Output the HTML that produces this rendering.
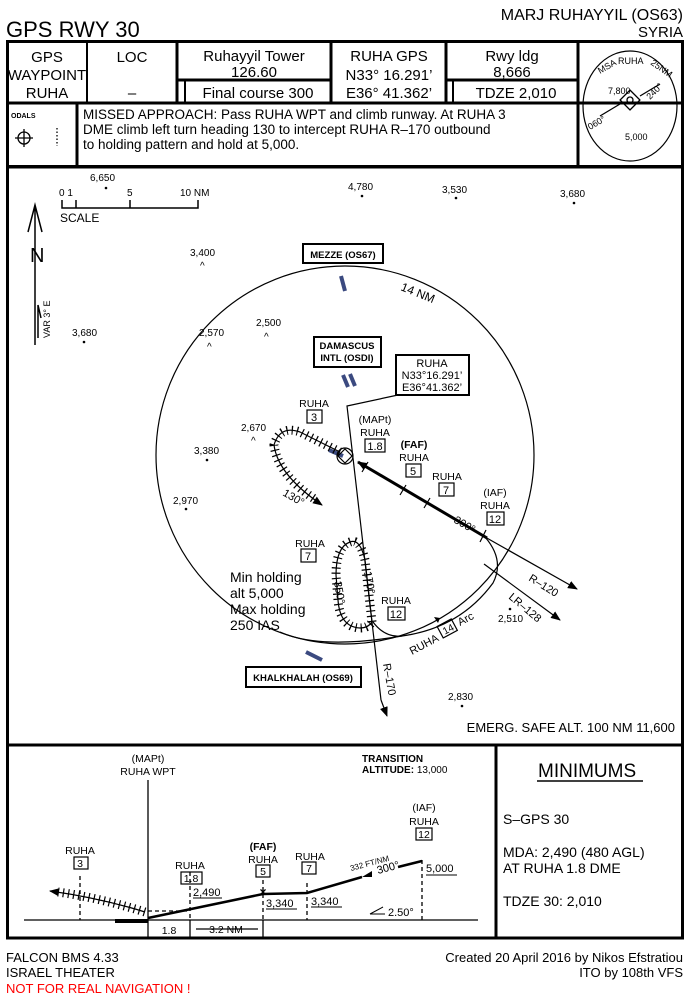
<!DOCTYPE html>
<html><head><meta charset="utf-8"><style>
html,body{margin:0;padding:0;background:#fff}
svg{display:block}
text{font-family:"Liberation Sans",sans-serif;fill:#000}
</style></head><body>
<svg width="690" height="998" viewBox="0 0 690 998" xmlns="http://www.w3.org/2000/svg">
<defs>
<marker id="ar" markerWidth="10" markerHeight="8" refX="9" refY="4" orient="auto" markerUnits="userSpaceOnUse"><path d="M0,0 L10,4 L0,8 z" fill="#000"/></marker>
</defs>
<text x="6" y="37" font-size="22">GPS RWY 30</text>
<text x="683" y="20" font-size="16" text-anchor="end">MARJ RUHAYYIL (OS63)</text>
<text x="683" y="37" font-size="15" text-anchor="end">SYRIA</text>

<g stroke="#000" fill="none">
<rect x="7.5" y="41.5" width="675" height="125" stroke-width="3"/>
<line x1="6" y1="103" x2="683" y2="103" stroke-width="3"/>
<line x1="87" y1="41" x2="87" y2="103" stroke-width="2"/>
<line x1="177" y1="41" x2="177" y2="103" stroke-width="3"/>
<line x1="331" y1="41" x2="331" y2="103" stroke-width="3"/>
<line x1="446" y1="41" x2="446" y2="103" stroke-width="3"/>
<line x1="578" y1="41" x2="578" y2="167" stroke-width="3"/>
<line x1="177" y1="80" x2="331" y2="80" stroke-width="3"/>
<line x1="446" y1="80" x2="578" y2="80" stroke-width="3"/>
<line x1="185" y1="80" x2="185" y2="103" stroke-width="2"/>
<line x1="453" y1="80" x2="453" y2="103" stroke-width="2"/>
<line x1="77" y1="103" x2="77" y2="167" stroke-width="3"/>
</g>
<g font-size="15" text-anchor="middle">
<text x="47" y="62">GPS</text><text x="47" y="80">WAYPOINT</text><text x="47" y="98">RUHA</text>
<text x="132" y="62">LOC</text><text x="132" y="98">–</text>
<text x="254" y="61">Ruhayyil Tower</text><text x="254" y="77">126.60</text>
<text x="258" y="98">Final course 300</text>
<text x="389" y="61">RUHA GPS</text><text x="389" y="80">N33° 16.291’</text><text x="389" y="98">E36° 41.362’</text>
<text x="512" y="61">Rwy ldg</text><text x="512" y="77">8,666</text>
<text x="516" y="98">TDZE 2,010</text>
</g>
<text x="11" y="118" font-size="7" font-weight="bold">ODALS</text>
<g stroke="#000" fill="none" stroke-width="1.3"><circle cx="24" cy="138" r="6"/><line x1="24" y1="129" x2="24" y2="147"/><line x1="15" y1="138" x2="33" y2="138"/>
<line x1="57" y1="128" x2="57" y2="146" stroke-dasharray="1.5,2"/></g>
<g font-size="13.5"><text x="83" y="119">MISSED APPROACH: Pass RUHA WPT and climb runway. At RUHA 3</text>
<text x="83" y="134">DME climb left turn heading 130 to intercept RUHA R–170 outbound</text>
<text x="83" y="149">to holding pattern and hold at 5,000.</text></g>
<ellipse cx="630" cy="106" rx="47" ry="55" fill="none" stroke="#000" stroke-width="1.2"/>
<g stroke="#000" fill="none" stroke-width="1.3"><rect x="623" y="93" width="14" height="14" transform="rotate(45 630 100)"/><circle cx="630" cy="100" r="3"/>
<line x1="600" y1="116" x2="620" y2="104"/><line x1="640" y1="96" x2="660" y2="84"/></g>
<g font-size="9"><text x="600" y="74" transform="rotate(-30 600 74)">MSA</text><text x="618" y="64">RUHA</text><text x="650" y="64" transform="rotate(35 650 64)">25NM</text>
<text x="608" y="94">7,800</text><text x="625" y="140">5,000</text>
<text x="590" y="130" transform="rotate(-30 590 130)">060°</text><text x="650" y="100" transform="rotate(-45 650 100)">240°</text></g>

<rect x="7.5" y="167" width="675" height="578" fill="none" stroke="#000" stroke-width="3"/>
<g font-size="10">
<text x="90" y="181">6,650</text><circle cx="106" cy="188" r="1.3"/>
<text x="59" y="196">0 1</text><text x="127" y="196">5</text><text x="180" y="196">10 NM</text>
<text x="60" y="222" font-size="12">SCALE</text>
<text x="348" y="190">4,780</text><circle cx="362" cy="196" r="1.3"/>
<text x="442" y="193">3,530</text><circle cx="456" cy="198" r="1.3"/>
<text x="560" y="197">3,680</text><circle cx="574" cy="203" r="1.3"/>
<text x="190" y="256">3,400</text><text x="200" y="269">^</text>
<text x="199" y="336">2,570</text><text x="207" y="350">^</text>
<text x="256" y="326">2,500</text><text x="264" y="340">^</text>
<text x="72" y="336">3,680</text><circle cx="84" cy="342" r="1.3"/>
<text x="241" y="431">2,670</text><text x="251" y="444">^</text>
<text x="194" y="454">3,380</text><circle cx="207" cy="460" r="1.3"/>
<text x="173" y="504">2,970</text><circle cx="186" cy="509" r="1.3"/>
<text x="498" y="622">2,510</text><circle cx="510" cy="609" r="1.3"/>
<text x="448" y="700">2,830</text><circle cx="462" cy="706" r="1.3"/>
</g>
<g stroke="#000" fill="none" stroke-width="1.5">
<path d="M62,200 V208 H198 V200 M76,200 V208 M130,200 V208"/>
<path d="M35,345 V205 M28,232 L35,205 L42,232"/>
<path d="M38,338 L38,305 L41,318"/>
</g>
<text x="30" y="262" font-size="20">N</text>
<text x="50" y="338" font-size="9" transform="rotate(-90 50 338)">VAR 3° E</text>

<circle cx="345" cy="455" r="189" fill="none" stroke="#000" stroke-width="1.2"/>
<text x="400" y="290" font-size="12" transform="rotate(22 400 290)">14 NM</text>
<g fill="#fff" stroke="#000" stroke-width="2">
<rect x="303" y="244" width="80" height="19"/><rect x="314" y="337" width="67" height="30"/>
<rect x="396" y="355" width="73" height="40"/><rect x="246" y="667" width="115" height="20"/></g>
<g font-size="9.5" font-weight="bold" text-anchor="middle">
<text x="343" y="258">MEZZE (OS67)</text><text x="347" y="349">DAMASCUS</text><text x="347" y="361">INTL (OSDI)</text>
<text x="303" y="681">KHALKHALAH (OS69)</text></g>
<g font-size="11" text-anchor="middle"><text x="432" y="367">RUHA</text><text x="432" y="379">N33°16.291’</text><text x="432" y="391">E36°41.362’</text></g>
<g stroke="#3b4a80" stroke-width="4"><line x1="341" y1="276" x2="345" y2="291"/><line x1="343" y1="375" x2="348" y2="387"/><line x1="350" y1="374" x2="355" y2="386"/><line x1="306" y1="652" x2="322" y2="660"/><line x1="329" y1="450" x2="343" y2="456"/></g>

<g stroke="#000" fill="none" stroke-width="1.2">
<polyline points="398,395 347,406 381,700"/>
<line x1="381" y1="700" x2="387" y2="716" marker-end="url(#ar)"/>
<line x1="485" y1="537" x2="577" y2="589" marker-end="url(#ar)"/>
<line x1="484" y1="564" x2="560" y2="620" marker-end="url(#ar)"/>
<line x1="486" y1="530" x2="480" y2="542"/>
<path d="M485,537 Q505,560 493,583 Q460,628 402,636 Q385,638 373,622"/>
<path d="M280,632 Q320,650 402,636"/>
<circle cx="345" cy="456" r="8"/><rect x="340" y="451" width="10" height="10" transform="rotate(45 345 456)"/>
</g>
<line x1="487" y1="538" x2="358" y2="462" stroke="#000" stroke-width="3" marker-end="url(#ar)"/>
<g stroke="#000" stroke-width="1.2"><line x1="362" y1="472" x2="368" y2="462"/><line x1="400" y1="495" x2="406" y2="485"/><line x1="424" y1="508" x2="430" y2="498"/></g>
<path d="M440,618 l-6,-1 l4,6z" fill="#000"/>
<path d="M340,452 L300,432 Q280,425 274,445 Q278,475 322,505" fill="none" stroke="#000" stroke-width="1.2" marker-end="url(#ar)"/>
<path d="M340,452 L300,432 Q280,425 274,445 Q278,475 316,500" fill="none" stroke="#000" stroke-width="9" stroke-dasharray="1.2,4"/>
<path d="M372,622 L365,560 Q360,538 350,542 Q336,547 336,575 L338,600 Q340,627 360,628 Q368,628 372,622" fill="none" stroke="#000" stroke-width="1.2"/>
<path d="M372,622 L365,560 Q360,538 350,542 Q336,547 336,575 L338,600 Q340,627 360,628 Q368,628 372,622" fill="none" stroke="#000" stroke-width="9" stroke-dasharray="1.2,4"/>
<g font-size="10.5" text-anchor="middle">
<text x="314" y="407">RUHA</text><text x="375" y="423">(MAPt)</text><text x="375" y="436">RUHA</text>
<text x="414" y="448" font-weight="bold">(FAF)</text><text x="414" y="461">RUHA</text>
<text x="447" y="480">RUHA</text><text x="495" y="496">(IAF)</text><text x="495" y="509">RUHA</text>
<text x="310" y="547">RUHA</text><text x="396" y="604">RUHA</text></g>
<g fill="none" stroke="#000" stroke-width="1.2">
<rect x="307" y="410" width="15" height="13"/><rect x="365" y="439" width="20" height="13"/><rect x="406" y="464" width="15" height="13"/>
<rect x="439" y="483" width="15" height="13"/><rect x="487" y="512" width="17" height="13"/><rect x="301" y="549" width="15" height="13"/><rect x="388" y="607" width="17" height="13"/>
<rect x="439" y="622" width="16" height="13" transform="rotate(-28 447 628)"/></g>
<g font-size="11" text-anchor="middle">
<text x="314" y="421">3</text><text x="375" y="450">1.8</text><text x="413" y="475">5</text><text x="446" y="494">7</text>
<text x="495" y="523">12</text><text x="308" y="560">7</text><text x="396" y="618">12</text></g>
<g font-size="11">
<text x="282" y="495" transform="rotate(30 282 495)">130°</text>
<text x="453" y="522" transform="rotate(30 453 522)">300°</text>
<text x="528" y="580" transform="rotate(32 528 580)">R–120</text>
<text x="508" y="598" transform="rotate(40 508 598)">LR–128</text>
<text x="334" y="582" transform="rotate(80 334 582)">350°</text>
<text x="364" y="572" transform="rotate(80 364 572)">170°</text>
<text x="383" y="664" transform="rotate(80 383 664)">R–170</text>
<text x="412" y="655" transform="rotate(-28 412 655)">RUHA</text><text x="442" y="633" transform="rotate(-28 447 628)" font-size="10">14</text>
<text x="460" y="626" transform="rotate(-28 460 626)">Arc</text></g>
<g font-size="14"><text x="230" y="582">Min holding</text><text x="230" y="598">alt 5,000</text><text x="230" y="614">Max holding</text><text x="230" y="630">250 IAS</text></g>
<text x="675" y="732" font-size="13" text-anchor="end">EMERG. SAFE ALT. 100 NM 11,600</text>

<rect x="7.5" y="745" width="675" height="193" fill="none" stroke="#000" stroke-width="3"/>
<line x1="496" y1="745" x2="496" y2="938" stroke="#000" stroke-width="3"/>
<g stroke="#000" fill="none" stroke-width="1.3">
<line x1="24" y1="920" x2="478" y2="920"/>
<line x1="148" y1="780" x2="148" y2="938"/>
<line x1="190" y1="920" x2="190" y2="938"/><line x1="263" y1="920" x2="263" y2="938"/>
<g stroke-dasharray="4,3"><line x1="80" y1="876" x2="80" y2="920"/><line x1="190" y1="872" x2="190" y2="920"/><line x1="263" y1="880" x2="263" y2="920"/><line x1="307" y1="883" x2="307" y2="920"/><line x1="422" y1="860" x2="422" y2="920"/><line x1="148" y1="911" x2="190" y2="911"/></g>
<line x1="196" y1="929" x2="258" y2="929" />
</g>
<rect x="115" y="919" width="33" height="4" fill="#000"/>
<g stroke="#000" stroke-width="2.5" fill="none"><polyline points="148,918 263,894 307,893 362,877"/><line x1="398" y1="867" x2="422" y2="861"/></g>
<path d="M362,877 l10,-6 l0,6z" fill="#000"/>
<path d="M145,912 Q100,898 50,891" fill="none" stroke="#000" stroke-width="1.3" marker-end="url(#ar)"/>
<path d="M145,912 Q100,898 58,892" fill="none" stroke="#000" stroke-width="9" stroke-dasharray="1.2,4"/>
<g font-size="10.5" text-anchor="middle">
<text x="148" y="762">(MAPt)</text><text x="148" y="775">RUHA WPT</text>
<text x="80" y="854">RUHA</text><text x="190" y="869">RUHA</text>
<text x="263" y="850" font-weight="bold">(FAF)</text><text x="263" y="863">RUHA</text><text x="310" y="860">RUHA</text>
<text x="424" y="811">(IAF)</text><text x="424" y="825">RUHA</text>
<text x="169" y="934">1.8</text><text x="226" y="933">3.2 NM</text></g>
<g fill="none" stroke="#000" stroke-width="1.2"><rect x="74" y="857" width="14" height="12"/><rect x="181" y="872" width="21" height="12"/><rect x="256" y="865" width="14" height="12"/><rect x="302" y="862" width="14" height="12"/><rect x="416" y="828" width="16" height="12"/></g>
<g font-size="10.5" text-anchor="middle"><text x="80" y="867">3</text><text x="191" y="882">1.8</text><text x="263" y="875">5</text><text x="309" y="872">7</text><text x="424" y="838">12</text></g>
<g font-size="11"><text x="193" y="896">2,490</text><text x="266" y="907">3,340</text><text x="311" y="905">3,340</text><text x="426" y="872">5,000</text>
<text x="378" y="874" transform="rotate(-15 378 874)">300°</text><text x="351" y="871" font-size="8" transform="rotate(-15 351 871)">332 FT/NM</text>
<text x="388" y="916">2.50°</text></g>
<g stroke="#000" stroke-width="1"><line x1="193" y1="898" x2="222" y2="898"/><line x1="266" y1="909" x2="297" y2="909"/><line x1="311" y1="907" x2="342" y2="907"/><line x1="426" y1="875" x2="457" y2="875"/>
<line x1="370" y1="914" x2="385" y2="914"/><line x1="370" y1="914" x2="383" y2="907"/></g>
<text x="263" y="896" font-size="12" text-anchor="middle" font-weight="bold">×</text>
<g font-size="10" font-weight="bold"><text x="362" y="762">TRANSITION</text><text x="362" y="773">ALTITUDE: <tspan font-weight="normal">13,000</tspan></text></g>
<text x="538" y="777" font-size="19">MINIMUMS</text><line x1="537" y1="781" x2="643" y2="781" stroke="#000" stroke-width="1.5"/>
<g font-size="14"><text x="503" y="824">S–GPS 30</text><text x="503" y="857">MDA: 2,490 (480 AGL)</text><text x="503" y="873">AT RUHA 1.8 DME</text><text x="503" y="906">TDZE 30: 2,010</text></g>

<g font-size="13"><text x="6" y="962">FALCON BMS 4.33</text><text x="6" y="977">ISRAEL THEATER</text><text x="6" y="993" style="fill:#f00">NOT FOR REAL NAVIGATION !</text>
<text x="683" y="962" text-anchor="end">Created 20 April 2016 by Nikos Efstratiou</text><text x="683" y="977" text-anchor="end">ITO by 108th VFS</text></g>
</svg>
</body></html>
